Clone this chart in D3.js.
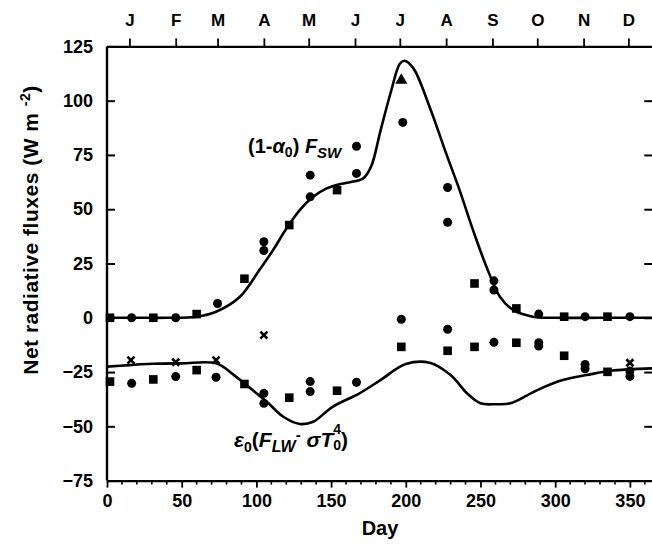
<!DOCTYPE html>
<html>
<head>
<meta charset="utf-8">
<script src="https://cdn.jsdelivr.net/npm/d3@7/dist/d3.min.js"></script>
<style>
  html, body { margin: 0; padding: 0; background: #fff; }
  svg { display: block; }
  text { font-family: "Liberation Sans", Arial, Helvetica, sans-serif; font-weight: bold; fill: #000; }
</style>
</head>
<body>
<svg id="chart" width="652" height="546"></svg>
<script>
// Modelled net shortwave flux (1-a0) F_SW through the year
const swDays   = [0, 20, 40, 60, 73, 89, 102, 111, 120, 129, 138, 147, 156, 168, 172, 177, 183, 190, 196, 199, 205, 216, 227, 236, 245, 254, 263, 272, 285, 300, 330, 365];
const swValues = [0, 0, 0, 0.5, 2.8, 9.7, 22, 31, 41, 49.6, 55.7, 59.6, 61.6, 63.2, 64.5, 70, 86, 104, 117, 118.4, 115, 97, 75.7, 58.8, 40.4, 23.5, 9.7, 3.5, 0.5, 0, 0, 0];

// Modelled net longwave flux e0 (F_LW - sigma T0^4)
const lwDays   = [0, 15, 30, 50, 73, 85, 96, 107, 118, 129, 138, 151, 169, 183, 200, 216, 230, 241, 250, 260, 270, 288, 305, 321, 337, 365];
const lwValues = [-22.5, -21.8, -21.2, -21, -21, -26.4, -32.5, -38.7, -45.6, -48.9, -47.9, -41, -34.8, -28.7, -21.3, -20.7, -26.4, -34.8, -39.4, -39.8, -39.4, -33.3, -28.7, -26.4, -24.4, -23.3];

// Observations, as [day, flux] pairs, grouped by marker
const circlePoints = [
  [16.5, 0], [46, 0], [74, 6.6], [105, 35], [105, 31], [136, 55.7], [136, 65.7], [167, 66.5], [167, 79],
  [198, 90], [228, 60], [228, 44], [259, 17], [259, 12.8], [289, 1.7], [320, 0.5], [350, 0.5],
  [16.5, -30.2], [46, -27.1], [73, -27.4], [105, -34.8], [105, -39.4], [136, -29.4], [136, -34], [167, -29.7],
  [197, -0.7], [228, -5.3], [259, -11.3], [289, -11.5], [289, -13], [320, -21.5], [320, -23.5], [350, -24.5], [350, -27]
];
const squarePoints = [
  [2, 0], [31, 0], [60, 1.7], [92, 18], [122, 42.7], [154, 58.8], [246, 15.8], [274, 4.3], [306, 0.5], [335, 0.5],
  [2, -29.4], [31, -28.4], [60, -24.1], [92, -30.5], [122, -36.8], [154, -33.6], [197, -13.4], [228, -15.2],
  [246, -13.4], [274, -11.5], [306, -17.5], [335, -24.9]
];
const trianglePoints = [[197, 109.4]];
const crossPoints = [[16, -19.5], [46, -20.5], [73, -19.5], [105, -8], [350, -20.7]];

// Axis ticks
const yTicks = [125, 100, 75, 50, 25, 0, -25, -50, -75];
const dayTicks = [0, 50, 100, 150, 200, 250, 300, 350];
const monthLabels = ["J", "F", "M", "A", "M", "J", "J", "A", "S", "O", "N", "D"];
const monthMidDays = [15, 46, 74, 105, 135, 166, 196, 227, 258, 288, 319, 349];

const svg = d3.select("#chart");
const x = d3.scaleLinear().domain([0, 365]).range([107, 652.3]);
const y = d3.scaleLinear().domain([-75, 125]).range([480.6, 46.4]);
const plotLeft = x(0), plotRight = x(365), plotTop = y(125), plotBottom = y(-75);

// Bottom axis: major ticks every 50 days, minor every 10
const xAxis = d3.axisBottom(x).tickValues(dayTicks).tickSize(7).tickSizeOuter(0).tickPadding(7).tickFormat(d3.format("d"));
const gx = svg.append("g").attr("transform", `translate(0,${plotBottom})`).call(xAxis);
gx.append("g").selectAll("line").data(d3.range(0, 366, 10).filter(d => d % 50 !== 0))
  .join("line").attr("x1", d => x(d)).attr("x2", d => x(d)).attr("y1", 0).attr("y2", 4)
  .attr("stroke", "#000").attr("stroke-width", 1.6);

// Top axis: mid-month ticks with month initials
const gt = svg.append("g").attr("transform", `translate(0,${plotTop})`)
  .call(d3.axisTop(x).tickValues(monthMidDays).tickSize(8).tickSizeOuter(0).tickPadding(12)
    .tickFormat((d, i) => monthLabels[i]));

// Left axis with inward ticks
const gy = svg.append("g").attr("transform", `translate(${plotLeft},0)`)
  .call(d3.axisLeft(y).tickValues(yTicks).tickSize(0).tickPadding(14).tickFormat(d3.format("d")));
gy.selectAll(".tick").append("line").attr("x1", 0).attr("x2", 8).attr("stroke", "#000").attr("stroke-width", 2);

// Right axis: inward ticks only
const gr = svg.append("g").attr("transform", `translate(${plotRight},0)`)
  .call(d3.axisRight(y).tickValues(yTicks.slice(1, -1)).tickSize(0).tickFormat(""));
gr.selectAll(".tick").append("line").attr("x1", 0).attr("x2", -8).attr("stroke", "#000").attr("stroke-width", 2);
gr.select(".domain").remove();

[gx, gt, gy].forEach(g => {
  g.select(".domain").attr("stroke", "#000").attr("stroke-width", 2.4);
  g.selectAll(".tick line").attr("stroke", "#000").attr("stroke-width", g === gy ? 2 : 1.8);
  g.selectAll(".tick text").attr("font-size", 18).attr("font-family", "'Liberation Sans', Arial, sans-serif")
    .attr("font-weight", "bold").attr("fill", "#000");
});
gt.selectAll(".tick text").attr("font-size", 17);
gy.select(".domain").attr("d", `M0,${plotTop}V${plotBottom}`);

// Model curves
const line = d3.line().x(d => x(d[0])).y(d => y(d[1])).curve(d3.curveCatmullRom.alpha(0.5));
svg.append("path").datum(d3.zip(swDays, swValues)).attr("d", line)
  .attr("fill", "none").attr("stroke", "#000").attr("stroke-width", 2.6);
svg.append("path").datum(d3.zip(lwDays, lwValues)).attr("d", line)
  .attr("fill", "none").attr("stroke", "#000").attr("stroke-width", 2.6);

// Observation markers
const marks = svg.append("g");
marks.selectAll("circle").data(circlePoints).join("circle")
  .attr("cx", d => x(d[0])).attr("cy", d => y(d[1])).attr("r", 4.5).attr("fill", "#000");
marks.selectAll("rect").data(squarePoints).join("rect")
  .attr("x", d => x(d[0]) - 4.3).attr("y", d => y(d[1]) - 4.3).attr("width", 8.6).attr("height", 8.6).attr("fill", "#000");
const tri = d3.symbol().type(d3.symbolTriangle).size(64);
marks.selectAll("path.tri").data(trianglePoints).join("path").attr("class", "tri")
  .attr("transform", d => `translate(${x(d[0])},${y(d[1])})`).attr("d", tri()).attr("fill", "#000");
marks.selectAll("path.cross").data(crossPoints).join("path").attr("class", "cross")
  .attr("transform", d => `translate(${x(d[0])},${y(d[1])})`)
  .attr("d", "M-3.5,-3.5L3.5,3.5M-3.5,3.5L3.5,-3.5").attr("stroke", "#000").attr("stroke-width", 2.6).attr("fill", "none");

// Curve labels
const sw = svg.append("text").attr("x", 248).attr("y", 153).attr("font-size", 20);
sw.append("tspan").text("(1-");
sw.append("tspan").attr("font-style", "italic").text("α");
sw.append("tspan").attr("font-size", 14).attr("dy", 4).text("0");
sw.append("tspan").attr("dy", -4).text(") ");
sw.append("tspan").attr("font-style", "italic").text("F");
sw.append("tspan").attr("font-style", "italic").attr("font-size", 15).attr("dy", 5).text("SW");

const lw = svg.append("text").attr("x", 234).attr("y", 447).attr("font-size", 21);
lw.append("tspan").attr("font-style", "italic").text("ε");
lw.append("tspan").attr("font-size", 14).attr("dy", 5).text("0");
lw.append("tspan").attr("dy", -5).text("(");
lw.append("tspan").attr("font-style", "italic").text("F");
lw.append("tspan").attr("font-style", "italic").attr("font-size", 16).attr("dy", 5).text("LW");
lw.append("tspan").attr("font-size", 15).attr("dy", -12).text("-");
lw.append("tspan").attr("dy", 7).attr("font-style", "italic").text(" σT");
lw.append("tspan").attr("font-size", 14).attr("dy", 3).text("0");
lw.append("tspan").attr("font-size", 14).attr("dy", -16).attr("dx", -7.8).text("4");
lw.append("tspan").attr("dy", 13).text(")");

// Axis titles
svg.append("text").attr("x", 380).attr("y", 535).attr("text-anchor", "middle").attr("font-size", 20).text("Day");
const yt = svg.append("text").attr("transform", "translate(38,230) rotate(-90)").attr("text-anchor", "middle")
  .attr("font-size", 21).attr("letter-spacing", 0.5);
yt.append("tspan").text("Net radiative fluxes  (W m ");
yt.append("tspan").attr("font-size", 14).attr("dy", -8).text("-2");
yt.append("tspan").attr("dy", 8).text(")");
</script>
</body>
</html>
